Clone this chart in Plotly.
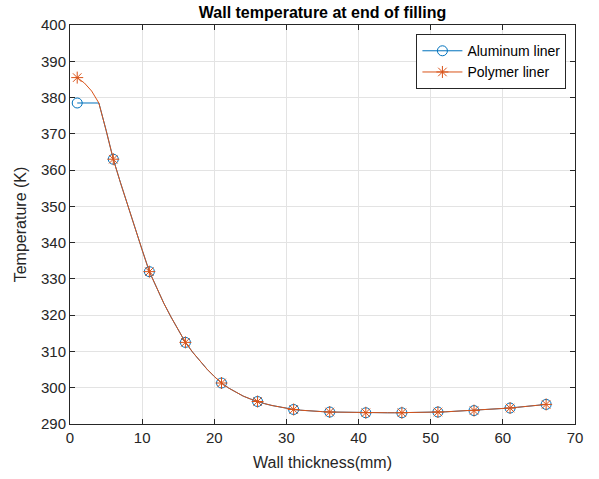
import plotly.graph_objects as go

# Wall thickness (mm) for the sampled temperature profile
thickness = list(range(1, 67))

# Temperature (K) along the wall, aluminum liner
temp_aluminum = [
    378.5, 378.5, 378.5, 378.5, 371.0, 363.0, 356.5, 350.2, 344.0, 338.0,
    332.0, 327.5, 323.3, 319.5, 316.0, 312.5, 309.8, 307.3, 305.1, 303.1,
    301.3, 299.9, 298.7, 297.7, 296.9, 296.2, 295.6, 295.1, 294.7, 294.3,
    294.0, 293.8, 293.6, 293.5, 293.4, 293.3, 293.25, 293.2, 293.15, 293.1,
    293.1, 293.1, 293.1, 293.1, 293.1, 293.1, 293.15, 293.2, 293.2, 293.25,
    293.3, 293.35, 293.45, 293.5, 293.6, 293.7, 293.85, 294.0, 294.1, 294.25,
    294.4, 294.6, 294.8, 295.0, 295.2, 295.4,
]

# Temperature (K) along the wall, polymer liner
temp_polymer = [
    385.5, 384.0, 381.8, 378.5, 371.0, 363.0, 356.5, 350.2, 344.0, 338.0,
    332.0, 327.5, 323.3, 319.5, 316.0, 312.5, 309.8, 307.3, 305.1, 303.1,
    301.3, 299.9, 298.7, 297.7, 296.9, 296.2, 295.6, 295.1, 294.7, 294.3,
    294.0, 293.8, 293.6, 293.5, 293.4, 293.3, 293.25, 293.2, 293.15, 293.1,
    293.1, 293.1, 293.1, 293.1, 293.1, 293.1, 293.15, 293.2, 293.2, 293.25,
    293.3, 293.35, 293.45, 293.5, 293.6, 293.7, 293.85, 294.0, 294.1, 294.25,
    294.4, 294.6, 294.8, 295.0, 295.2, 295.4,
]

# Markers are shown every 5 mm
marker_step = 5

series_names = ["Aluminum liner", "Polymer liner"]
series_colors = ["#0072BD", "#D95319"]
series_symbols = ["circle-open", "asterisk-open"]
series_values = [temp_aluminum, temp_polymer]

FONT = "Liberation Sans, Arial, Helvetica, sans-serif"
AXIS_COLOR = "#262626"

fig = go.Figure()

for name, color, symbol, values in zip(series_names, series_colors,
                                       series_symbols, series_values):
    # continuous profile line
    fig.add_trace(go.Scatter(
        x=thickness, y=values, mode="lines",
        line=dict(color=color, width=1),
        showlegend=False, hoverinfo="skip",
    ))
    # markers on a subset of samples
    fig.add_trace(go.Scatter(
        x=thickness[::marker_step], y=values[::marker_step], mode="markers",
        marker=dict(symbol=symbol, size=10, color=color,
                    line=dict(color=color, width=1)),
        showlegend=False, name=name,
    ))
    # legend entry combining line and marker
    fig.add_trace(go.Scatter(
        x=[None], y=[None], mode="lines+markers", name=name,
        line=dict(color=color, width=1),
        marker=dict(symbol=symbol, size=10, color=color,
                    line=dict(color=color, width=1)),
    ))

axis_common = dict(
    showline=True, linecolor=AXIS_COLOR, linewidth=1, mirror="ticks",
    ticks="inside", ticklen=5, tickcolor=AXIS_COLOR, tickwidth=1,
    showgrid=True, gridcolor="#e3e3e3", gridwidth=1, zeroline=False,
    tickfont=dict(family=FONT, size=15, color=AXIS_COLOR),
)

fig.update_layout(
    width=599, height=479,
    margin=dict(l=70, r=24, t=25, b=55),
    paper_bgcolor="white", plot_bgcolor="white",
    title=dict(
        text="<b>Wall temperature at end of filling</b>",
        x=0.5, xanchor="center", xref="paper",
        y=1 - 12 / 479, yanchor="middle",
        font=dict(family=FONT, size=16, color="black"),
    ),
    xaxis=dict(
        range=[0, 70], dtick=10, tick0=0,
        title=dict(text="Wall thickness(mm)", standoff=11,
                   font=dict(family=FONT, size=16, color=AXIS_COLOR)),
        **axis_common,
    ),
    yaxis=dict(
        range=[290, 400], dtick=10, tick0=290,
        title=dict(text="Temperature (K)", standoff=10,
                   font=dict(family=FONT, size=16, color=AXIS_COLOR)),
        **axis_common,
    ),
    legend=dict(
        x=0.983, xanchor="right", y=0.977, yanchor="top",
        bgcolor="white", bordercolor=AXIS_COLOR, borderwidth=1,
        font=dict(family=FONT, size=14, color="black"),
        tracegroupgap=0, itemwidth=40,
    ),
)

fig.write_html("out.html")
